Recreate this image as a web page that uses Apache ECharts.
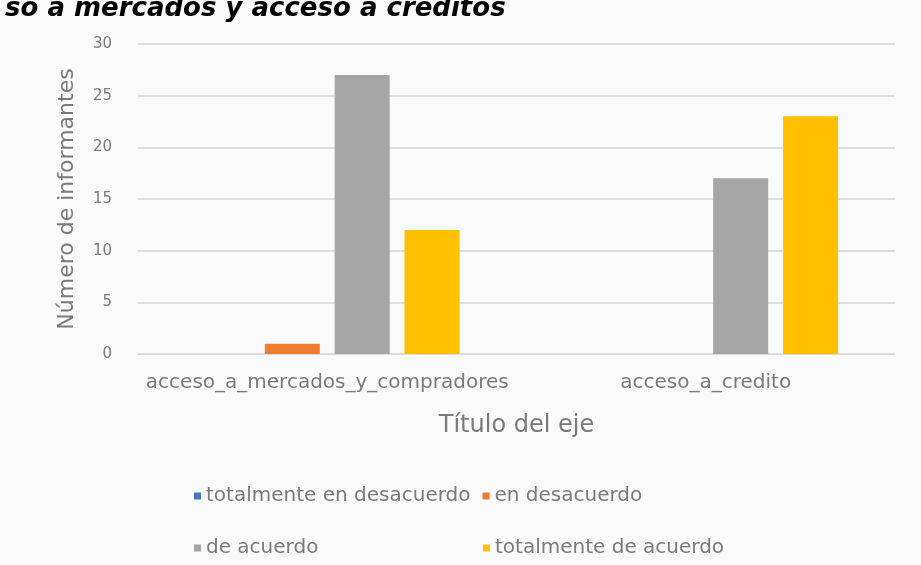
<!DOCTYPE html>
<html>
<head>
    <meta charset="UTF-8">
    <title></title>
    <script type="text/javascript" src="https://cdn.jsdelivr.net/npm/echarts@6/dist/echarts.min.js"></script>
    <style type="text/css">
        html, body { margin: 0; padding: 0; background: #fafafa; }
        #chart { width: 921px; height: 565px; }
    </style>
</head>
<body>
<div id="chart"></div>
<script type="text/javascript">
    var categories = ['acceso_a_mercados_y_compradores', 'acceso_a_credito'];
    var seriesNames = ['totalmente en desacuerdo', 'en desacuerdo', 'de acuerdo', 'totalmente de acuerdo'];
    var totDesacuerdo = [0, 0];
    var enDesacuerdo = [1, 0];
    var deAcuerdo = [27, 17];
    var totAcuerdo = [12, 23];
    var colors = ['#4472C4', '#ED7D31', '#A5A5A5', '#FFC000'];

    var seriesData = [totDesacuerdo, enDesacuerdo, deAcuerdo, totAcuerdo];
    var txt = '#7a7a7a';
    var font = 'DejaVu Sans';

    var myChart = echarts.init(document.getElementById('chart'));
    var series = [];
    for (var i = 0; i < seriesNames.length; i++) {
        series.push({
            name: seriesNames[i],
            type: 'bar',
            data: seriesData[i],
            barWidth: 55,
            barGap: '27%',
            itemStyle: { color: colors[i] }
        });
    }
    var legendBase = {
        icon: 'rect', itemWidth: 7, itemHeight: 7, itemGap: 12,
        textStyle: { color: txt, fontSize: 20, fontFamily: font }
    };
    myChart.setOption({
        backgroundColor: '#fafafa',
        title: {
            text: 'so a mercados y acceso a créditos',
            left: 0, top: -9,
            textStyle: { color: '#000', fontSize: 26, fontWeight: 'bold', fontStyle: 'italic', fontFamily: font }
        },
        legend: [
            Object.assign({ data: [seriesNames[0], seriesNames[1]], left: 189, top: 481 }, legendBase),
            Object.assign({ data: [seriesNames[2]], left: 189, top: 533 }, legendBase),
            Object.assign({ data: [seriesNames[3]], left: 478, top: 533 }, legendBase)
        ],
        grid: { left: 138, right: 26, top: 44, bottom: 211 },
        xAxis: {
            type: 'category',
            data: categories,
            name: 'Título del eje',
            nameLocation: 'middle',
            nameGap: 60,
            nameTextStyle: { color: txt, fontSize: 24, fontFamily: font },
            axisLine: { lineStyle: { color: '#d9d9d9' } },
            axisTick: { show: false },
            axisLabel: { color: txt, fontSize: 20, margin: 19, interval: 0, fontFamily: font }
        },
        yAxis: {
            type: 'value',
            min: 0, max: 30, interval: 5,
            name: 'Número de informantes',
            nameLocation: 'middle',
            nameGap: 60,
            nameTextStyle: { color: txt, fontSize: 22, fontFamily: font },
            axisLabel: { color: txt, fontSize: 15, margin: 26, fontFamily: font },
            splitLine: { lineStyle: { color: '#dedede', width: 2 } }
        },
        series: series
    });
</script>
</body>
</html>
